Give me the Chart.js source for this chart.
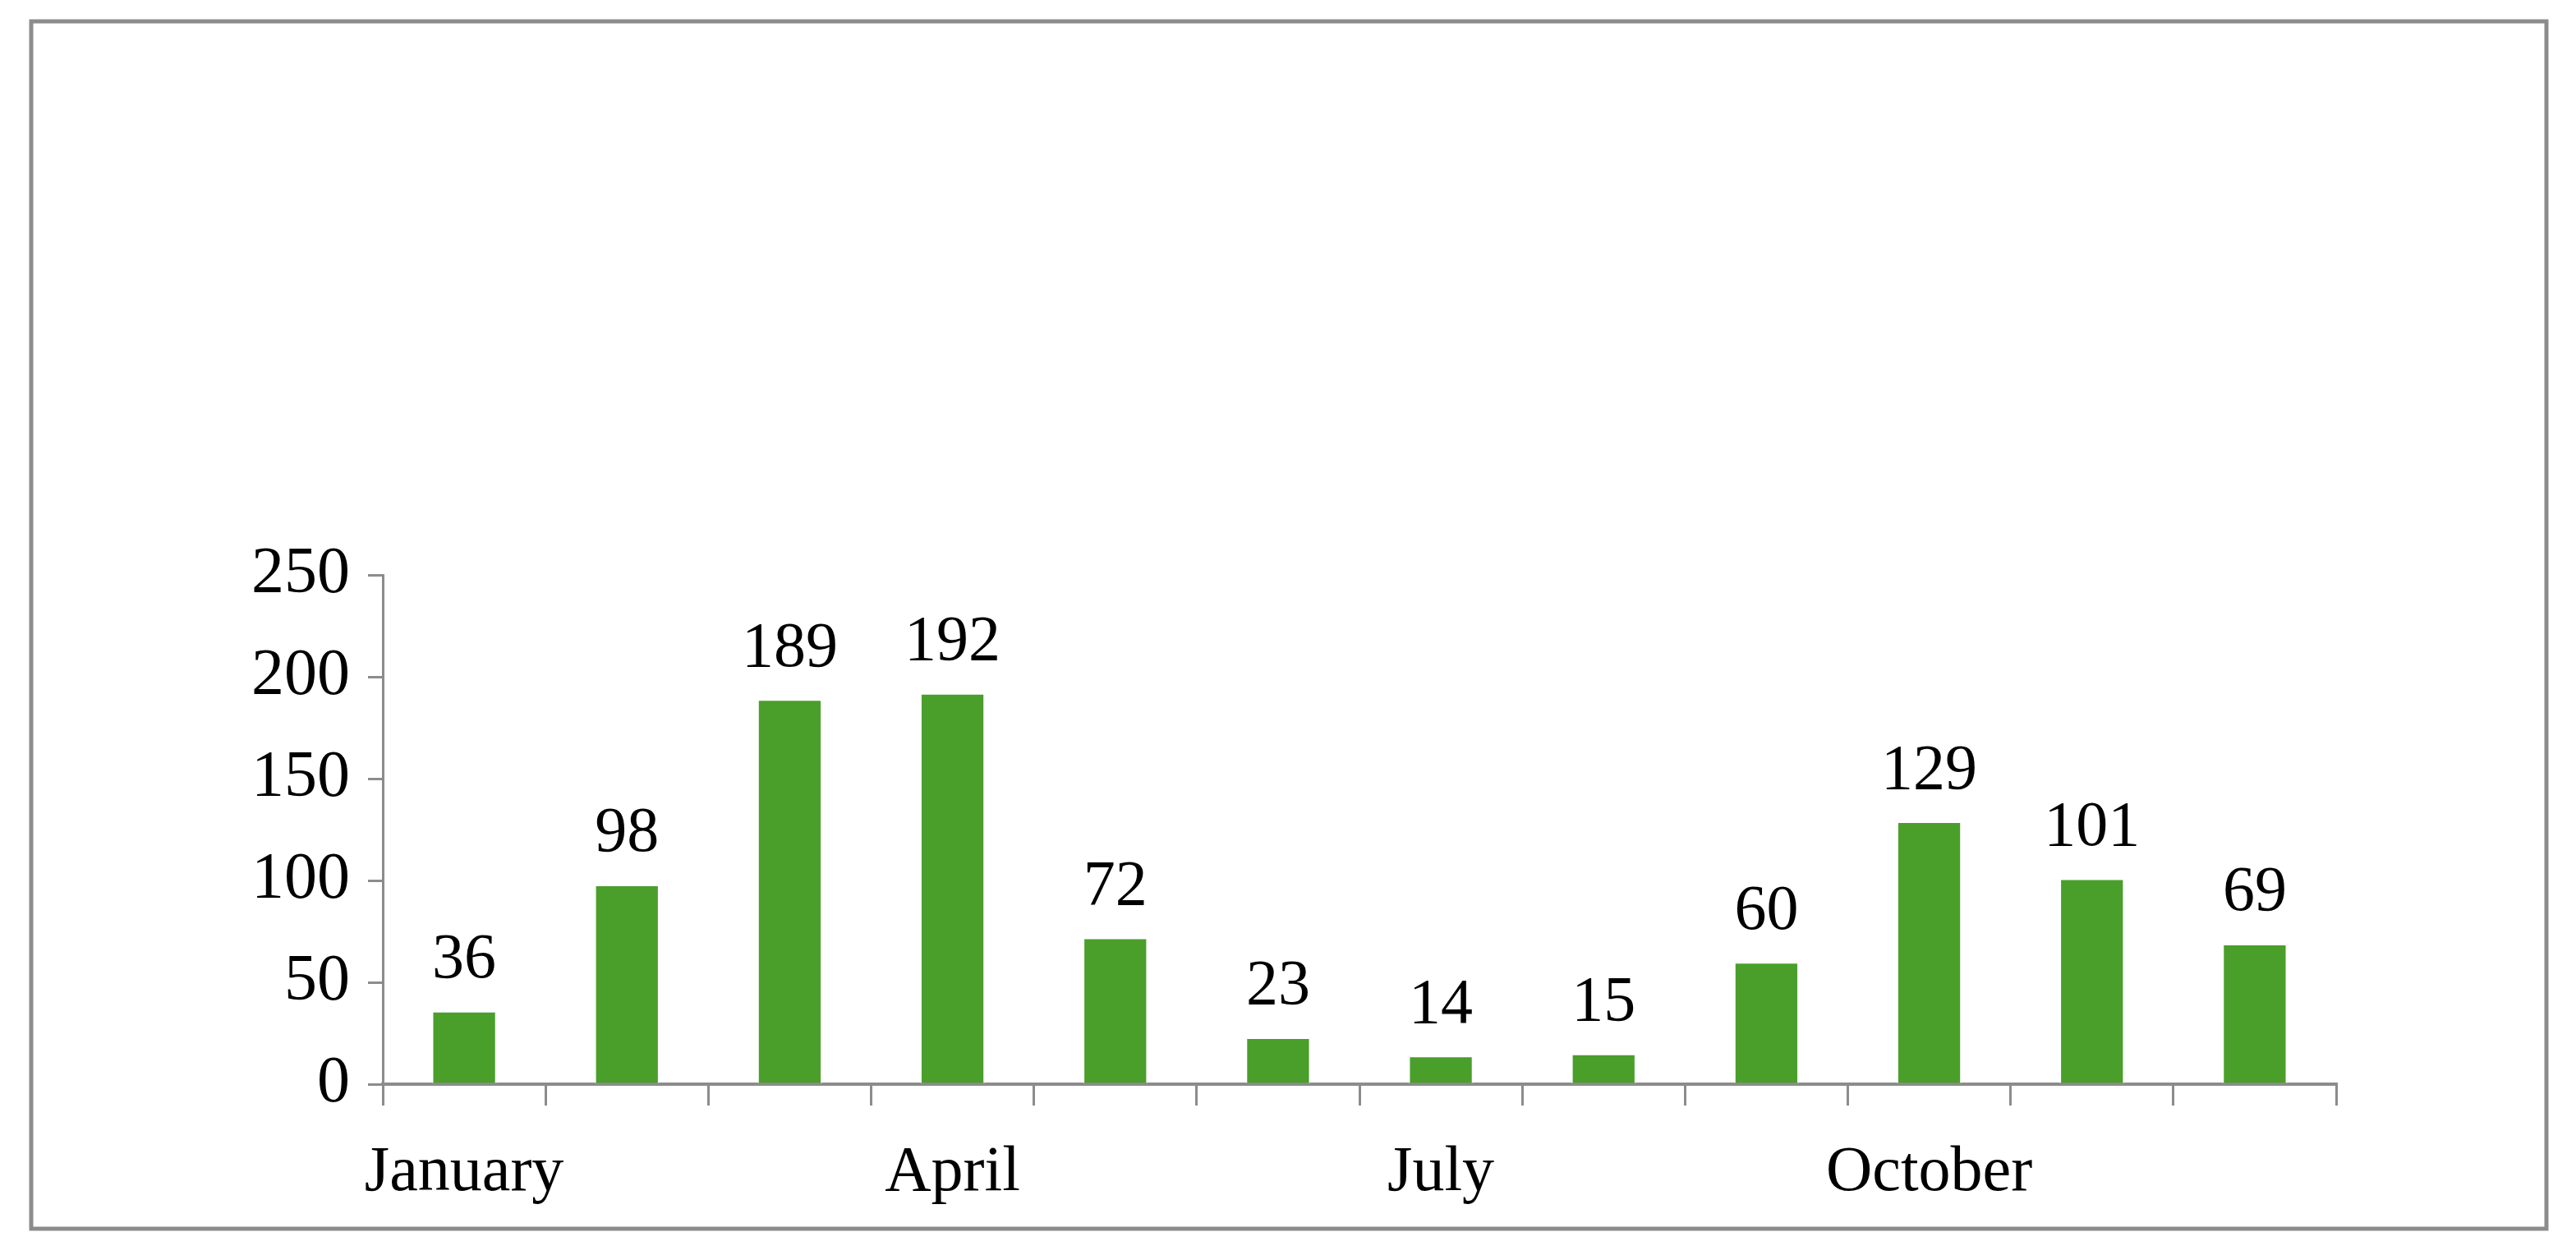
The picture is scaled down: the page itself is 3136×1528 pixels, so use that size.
<!DOCTYPE html>
<html><head><meta charset="utf-8">
<script src="https://cdn.jsdelivr.net/npm/chart.js@4"></script>
<style>html,body{margin:0;padding:0;background:#fff}</style>
</head><body>
<canvas id="c" width="3136" height="1528"></canvas>
<script>
const months = ["January","February","March","April","May","June","July","August","September","October","November","December"];
const values = [36,98,189,192,72,23,14,15,60,129,101,69];
const yTicks = [0,50,100,150,200,250];
const shownMonths = ["January","April","July","October"];
const FONT = "'Liberation Serif', 'Times New Roman', serif";

const frame = {
  id:'frame',
  beforeDraw(c){const x=c.ctx;x.save();x.fillStyle='#fff';x.fillRect(0,0,c.width,c.height);
    x.strokeStyle='#8c8c8c';x.lineWidth=5;x.strokeRect(38,26,3062,1470);x.restore();}
};
const labels = {
  id:'labels',
  afterDatasetsDraw(c){const x=c.ctx;const m=c.getDatasetMeta(0);x.save();
    x.font='78px '+FONT;x.fillStyle='#000';x.textAlign='center';x.textBaseline='bottom';
    m.data.forEach((b,i)=>x.fillText(String(values[i]),b.x,b.y-22));x.restore();}
};

new Chart(document.getElementById('c'),{
  type:'bar',
  data:{labels:months,datasets:[{data:values,backgroundColor:'#4a9e2a',borderColor:'#ffffff',borderWidth:2,barPercentage:0.4,categoryPercentage:1}]},
  options:{
    responsive:false,animation:false,devicePixelRatio:1,
    layout:{padding:{left:0,right:292,top:700,bottom:0}},
    plugins:{legend:{display:false},tooltip:{enabled:false}},
    scales:{
      x:{
        afterFit(s){s.height=208;},
        grid:{drawOnChartArea:false,tickLength:26,color:'#8c8c8c',lineWidth:3,offset:true},
        border:{color:'#8c8c8c',width:4},
        ticks:{autoSkip:false,maxRotation:0,padding:36,color:'#000',font:{family:FONT,size:78},
          callback(v,i){return shownMonths.includes(months[i])?months[i]:'';}}
      },
      y:{
        min:0,max:250,
        afterFit(s){s.width=466;},
        afterBuildTicks(s){s.ticks=yTicks.map(v=>({value:v}));},
        grid:{drawOnChartArea:false,tickLength:18,color:'#8c8c8c',lineWidth:3},
        border:{color:'#8c8c8c',width:3},
        ticks:{padding:22,color:'#000',font:{family:FONT,size:80}}
      }
    }
  },
  plugins:[frame,labels]
});
</script>
</body></html>
